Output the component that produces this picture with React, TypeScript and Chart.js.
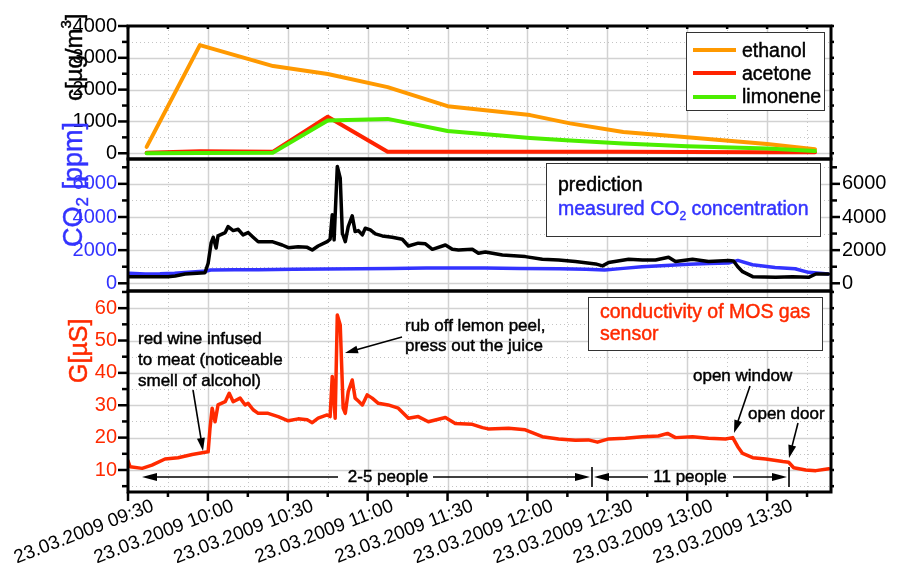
import React, { useEffect, useRef } from 'react';
import { Chart, registerables } from 'chart.js';

Chart.register(...registerables);

const FONT = '"Liberation Sans", Arial, Helvetica, sans-serif';

// x values are minutes after 23.03.2009 09:30
const X_MAX = 264;
const timeTicks = [0, 30, 60, 90, 120, 150, 180, 210, 240];
const timeLabels = [
  '23.03.2009 09:30', '23.03.2009 10:00', '23.03.2009 10:30', '23.03.2009 11:00',
  '23.03.2009 11:30', '23.03.2009 12:00', '23.03.2009 12:30', '23.03.2009 13:00',
  '23.03.2009 13:30',
];
const cTicks = [0, 1000, 2000, 3000, 4000];
const co2Ticks = [0, 2000, 4000, 6000];
const gTicks = [10, 20, 30, 40, 50, 60];

// top panel: c [µg/m³]
const gasTimes = [7, 27, 54.5, 75, 97.5, 120, 151, 166, 186, 210, 240, 258];
const ethanol = [200, 3400, 2740, 2490, 2080, 1480, 1200, 940, 670, 500, 290, 130];
const acetone = [20, 60, 50, 1150, 50, 50, 50, 50, 50, 40, 30, 30];
const limonene = [0, 10, 20, 1030, 1080, 700, 480, 400, 310, 220, 150, 70];

// middle panel: CO2 [ppm]
const co2Times = [
  0.5, 6.5, 12, 17.5, 24, 29.5, 31, 40, 49, 62,
  74, 87, 99, 112, 124, 134, 147, 162, 172, 179,
  186, 193, 202, 210.5, 218, 225.5, 229, 234.5, 243, 250.5,
  255.5, 263,
];
const co2Measured = [
  600, 560, 570, 600, 680, 740, 800, 810, 820, 840,
  860, 880, 900, 920, 930, 920, 900, 880, 850, 800,
  900, 1000, 1080, 1150, 1200, 1220, 1380, 1120, 950, 880,
  660, 560,
];
const predTimes = [
  0.5, 15, 17.7, 21.4, 28.9, 30.1, 31.2, 32, 33.1, 33.8,
  36.5, 37.6, 39.5, 41.4, 43.2, 45.1, 47, 48.9, 54.1, 57.9,
  60.2, 63.9, 67.3, 69.2, 71.4, 74.8, 75.9, 76.7, 77.4, 78.6,
  79.7, 80.5, 81.6, 82.7, 84.2, 85.3, 86.5, 88, 89.1, 91,
  92.9, 95.5, 99.2, 103, 105.3, 109, 111.7, 114.3, 119.2, 121.8,
  124.1, 129.3, 131.6, 134.2, 140.6, 149.2, 155.6, 161.7, 168, 175.6,
  178.2, 180.5, 188, 193.2, 198.1, 203, 205.6, 212, 218, 225.6,
  227.4, 229, 230.8, 234.6, 243.2, 249.6, 255.6, 258.3, 263,
];
const predValues = [
  400, 400, 440, 560, 640, 1210, 2420, 2780, 2130, 2860,
  3060, 3420, 3180, 3260, 2920, 3060, 2780, 2510, 2510, 2310,
  2150, 2210, 2170, 2010, 2250, 2510, 2660, 4130, 2620, 7050,
  6340, 3020, 2510, 3420, 4070, 3120, 3180, 2920, 3320, 3220,
  2980, 2860, 2780, 2660, 2250, 2420, 2380, 2050, 2310, 2050,
  2010, 2050, 1810, 1890, 1710, 1610, 1450, 1410, 1310, 1170,
  1050, 1250, 1450, 1410, 1410, 1570, 1310, 1450, 1310, 1370,
  1350, 1000, 700, 400, 360, 400, 360, 560, 560,
];

// bottom panel: G [µS]
const gTimes = [
  0, 0.8, 5.3, 9, 13.9, 18.8, 24.1, 28.9, 30.1, 30.8,
  31.6, 32.7, 33.8, 36.5, 38, 39.5, 42.1, 44, 45.1, 47,
  48.9, 52.6, 56.4, 60.2, 63.9, 67.3, 69.2, 71.4, 74.8, 75.9,
  76.7, 77.8, 78.6, 79.7, 80.8, 81.6, 82.7, 84.2, 85.3, 86.5,
  88, 89.8, 91.7, 94, 97.7, 101.5, 105.3, 109, 112.8, 119.2,
  122.9, 129.3, 133.1, 135.3, 142.9, 149.2, 155.6, 161.7, 168, 172.9,
  176.3, 180.5, 186.8, 193.2, 199.2, 202.6, 205.6, 212, 218, 224.4,
  227.1, 229, 230.8, 234.6, 239.5, 245.9, 248.1, 250, 254.5, 258.3,
  263.2,
];
const gValues = [
  12.8, 11.0, 10.5, 11.5, 13.4, 13.8, 14.8, 15.5, 15.6, 22.9,
  29.1, 24.9, 30.1, 31.1, 33.7, 31.1, 32.2, 30.1, 30.6, 28.6,
  27.5, 27.5, 26.5, 25.2, 25.8, 25.5, 24.6, 26.0, 27.0, 26.5,
  38.9, 26.0, 57.9, 54.8, 29.1, 27.5, 34.2, 37.8, 32.2, 31.3,
  30.1, 33.2, 32.2, 30.6, 30.1, 29.1, 26.0, 26.5, 24.9, 26.2,
  24.4, 24.1, 23.1, 22.7, 22.9, 22.4, 20.3, 19.6, 19.2, 19.3,
  18.6, 19.6, 19.8, 20.3, 20.5, 21.3, 20.0, 20.3, 19.8, 19.6,
  20.0, 17.2, 15.1, 13.8, 13.4, 12.6, 12.4, 10.7, 10.0, 9.8,
  10.4,
];

const C_ETH = '#ff9900';
const C_ACE = '#ff2200';
const C_LIM = '#4cee00';
const C_BLUE = '#3333ff';
const C_RED = '#ff2a00';

const pts = (xs: number[], ys: number[]) => xs.map((x, i) => ({ x, y: ys[i] }));

const PANELS = [
  { id: 'yT', minor: 500, major: 1000 },
  { id: 'yM', minor: 1000, major: 2000 },
  { id: 'yB', minor: 5, major: 10 },
];

function seg(ctx: any, x1: number, y1: number, x2: number, y2: number) {
  ctx.beginPath();
  ctx.moveTo(x1, y1);
  ctx.lineTo(x2, y2);
  ctx.stroke();
}

function arrow(ctx: any, x1: number, y1: number, x2: number, y2: number, head = 13, half = 4) {
  const dx = x2 - x1, dy = y2 - y1;
  const len = Math.hypot(dx, dy);
  const ux = dx / len, uy = dy / len;
  const bx = x2 - ux * head, by = y2 - uy * head;
  ctx.lineWidth = 1.6;
  seg(ctx, x1, y1, bx + ux * 2, by + uy * 2);
  ctx.beginPath();
  ctx.moveTo(x2, y2);
  ctx.lineTo(bx - uy * half, by + ux * half);
  ctx.lineTo(bx + uy * half, by - ux * half);
  ctx.closePath();
  ctx.fill();
}

// text with a faint outline so it reads as heavy as the original
function rich(ctx: any, x: number, y: number, parts: any[]) {
  let cx = x;
  for (const p of parts) {
    ctx.font = `${p.size}px ${FONT}`;
    ctx.fillStyle = p.color;
    ctx.strokeStyle = p.color;
    ctx.lineWidth = 0.45;
    ctx.fillText(p.t, cx, y + (p.dy || 0));
    ctx.strokeText(p.t, cx, y + (p.dy || 0));
    cx += ctx.measureText(p.t).width;
  }
}

function rotatedRich(ctx: any, x: number, y: number, parts: any[]) {
  ctx.save();
  ctx.translate(x, y);
  ctx.rotate(-Math.PI / 2);
  ctx.textAlign = 'left';
  ctx.textBaseline = 'alphabetic';
  rich(ctx, 0, 0, parts);
  ctx.restore();
}

const gridPlugin = {
  id: 'panelGrid',
  beforeDatasetsDraw(chart: any) {
    const { ctx, chartArea: ca, scales } = chart;
    const xs = scales.x;
    ctx.save();
    for (let t = 15; t < xs.max; t += 15) {
      const major = t % 30 === 0;
      const px = Math.round(xs.getPixelForValue(t)) + 0.5;
      ctx.lineWidth = major ? 1.5 : 1;
      ctx.strokeStyle = major ? '#d2d2d2' : '#c4c4c4';
      ctx.setLineDash(major ? [] : [1, 3]);
      seg(ctx, px, ca.top, px, ca.bottom);
    }
    for (const p of PANELS) {
      const s = scales[p.id];
      for (let v = Math.ceil(s.min / p.minor) * p.minor; v < s.max; v += p.minor) {
        const py = Math.round(s.getPixelForValue(v)) + 0.5;
        if (py < s.top + 2 || py > s.bottom - 2) continue;
        const major = v % p.major === 0;
        ctx.lineWidth = major ? 1.5 : 1;
        ctx.strokeStyle = major ? '#d2d2d2' : '#c4c4c4';
        ctx.setLineDash(major ? [] : [1, 3]);
        seg(ctx, ca.left, py, ca.right, py);
      }
    }
    ctx.restore();
  },
  afterDatasetsDraw(chart: any) {
    const { ctx, chartArea: ca, scales } = chart;
    ctx.save();
    ctx.strokeStyle = '#000';
    ctx.setLineDash([]);
    ctx.lineWidth = 2.5;
    for (const p of PANELS) {
      const s = scales[p.id];
      for (let v = Math.ceil(s.min / p.minor) * p.minor; v <= s.max; v += p.minor) {
        const py = s.getPixelForValue(v);
        if (py < s.top - 0.5 || py > s.bottom + 0.5) continue;
        const major = v % p.major === 0;
        seg(ctx, ca.left, py, ca.left - (major ? 10 : 6), py);
        const rl = p.id === 'yM' ? (major ? 9 : 6) : 3;
        seg(ctx, ca.right, py, ca.right + rl, py);
      }
    }
    const xs = scales.x;
    for (let t = 0; t <= xs.max; t += 15) {
      const px = xs.getPixelForValue(t);
      const major = t % 30 === 0;
      seg(ctx, px, ca.bottom, px, ca.bottom + (major ? 9 : 5));
      seg(ctx, px, ca.top, px, ca.top + 3);
    }
    ctx.lineWidth = 3;
    for (const p of PANELS) {
      const s = scales[p.id];
      ctx.strokeRect(ca.left, s.top, ca.right - ca.left, s.bottom - s.top);
    }
    ctx.restore();
  },
  afterDraw(chart: any) {
    const { ctx } = chart;
    ctx.save();
    ctx.setLineDash([]);
    ctx.textBaseline = 'alphabetic';
    ctx.textAlign = 'left';

    // axis titles
    rotatedRich(ctx, 82, 101, [
      { t: 'c[µg/m', size: 24, color: '#000' },
      { t: '3', size: 15, dy: -11, color: '#000' },
      { t: ']', size: 24, color: '#000' },
    ]);
    rotatedRich(ctx, 82, 247, [
      { t: 'CO', size: 27, color: C_BLUE },
      { t: '2', size: 17, dy: 6, color: C_BLUE },
      { t: ' [ppm]', size: 27, color: C_BLUE },
    ]);
    rotatedRich(ctx, 87, 383, [{ t: 'G[µS]', size: 25, color: C_RED }]);

    // legend boxes
    ctx.lineWidth = 1;
    ctx.strokeStyle = '#333';
    ctx.fillStyle = '#fff';
    ctx.fillRect(686, 32, 138, 78);
    ctx.strokeRect(686.5, 32.5, 138, 78);
    const legendRows = [
      { t: 'ethanol', c: C_ETH, y: 50, by: 57 },
      { t: 'acetone', c: C_ACE, y: 73, by: 80 },
      { t: 'limonene', c: C_LIM, y: 97, by: 103 },
    ];
    for (const r of legendRows) {
      ctx.strokeStyle = r.c;
      ctx.lineWidth = 4;
      seg(ctx, 693, r.y, 736, r.y);
      rich(ctx, 742, r.by, [{ t: r.t, size: 19.5, color: '#000' }]);
    }

    ctx.lineWidth = 1;
    ctx.strokeStyle = '#333';
    ctx.fillStyle = '#fff';
    ctx.fillRect(546, 163, 274, 73);
    ctx.strokeRect(546.5, 163.5, 274, 73);
    rich(ctx, 558, 191, [{ t: 'prediction', size: 19.5, color: '#000' }]);
    rich(ctx, 558, 215, [
      { t: 'measured CO', size: 19.5, color: C_BLUE },
      { t: '2', size: 12, dy: 5, color: C_BLUE },
      { t: ' concentration', size: 19.5, color: C_BLUE },
    ]);

    ctx.lineWidth = 1;
    ctx.strokeStyle = '#333';
    ctx.fillStyle = '#fff';
    ctx.fillRect(588, 297, 234, 53);
    ctx.strokeRect(588.5, 297.5, 234, 53);
    rich(ctx, 600, 318, [{ t: 'conductivity of MOS gas', size: 19.5, color: C_RED }]);
    rich(ctx, 600, 340, [{ t: 'sensor', size: 19.5, color: C_RED }]);

    // annotations
    const A = 17;
    rich(ctx, 138, 344, [{ t: 'red wine infused', size: A, color: '#000' }]);
    rich(ctx, 138, 365, [{ t: 'to meat (noticeable', size: A, color: '#000' }]);
    rich(ctx, 138, 386, [{ t: 'smell of alcohol)', size: A, color: '#000' }]);
    rich(ctx, 405, 331, [{ t: 'rub off lemon peel,', size: A, color: '#000' }]);
    rich(ctx, 405, 351, [{ t: 'press out the juice', size: A, color: '#000' }]);
    rich(ctx, 693, 381, [{ t: 'open window', size: A, color: '#000' }]);
    rich(ctx, 748, 419, [{ t: 'open door', size: A, color: '#000' }]);

    ctx.strokeStyle = '#000';
    ctx.fillStyle = '#000';
    arrow(ctx, 193, 390, 203, 451);
    arrow(ctx, 402, 337, 345, 353);
    arrow(ctx, 750, 386, 734, 433);
    arrow(ctx, 798, 423, 789, 458);

    // people ranges
    ctx.textAlign = 'center';
    rich(ctx, 388, 482, [{ t: '2-5 people', size: A, color: '#000' }]);
    rich(ctx, 690, 482, [{ t: '11 people', size: A, color: '#000' }]);
    ctx.textAlign = 'left';
    ctx.strokeStyle = '#000';
    ctx.fillStyle = '#000';
    arrow(ctx, 338, 477, 142, 477, 15, 4);
    arrow(ctx, 433, 477, 590, 477, 15, 4);
    arrow(ctx, 648, 477, 594, 477, 15, 4);
    arrow(ctx, 733, 477, 787, 477, 15, 4);
    ctx.lineWidth = 1.6;
    seg(ctx, 592, 467, 592, 487);
    seg(ctx, 789, 467, 789, 487);
    ctx.restore();
  },
};

const fitLeft = (s: any) => {
  s.width = 128;
  s.paddingTop = 0; s.paddingBottom = 0; s.paddingLeft = 0; s.paddingRight = 0;
};
const fitRight = (s: any) => {
  s.width = 92;
  s.paddingTop = 0; s.paddingBottom = 0; s.paddingLeft = 0; s.paddingRight = 0;
};

const tickFont = { family: FONT, size: 20 };

function yAxis(position: string, weight: number, stackWeight: number, min: number, max: number, tickValues: number[], color: string, show: boolean) {
  return {
    type: 'linear',
    position,
    stack: position === 'left' ? 'L' : 'R',
    weight,
    stackWeight,
    min,
    max,
    grid: { display: false, drawTicks: false },
    border: { display: false },
    afterBuildTicks: (s: any) => {
      s.ticks = tickValues.map((v) => ({ value: v }));
    },
    ticks: {
      display: show,
      autoSkip: false,
      padding: 11,
      color,
      font: tickFont,
      callback: (v: any) => String(v),
    },
    afterFit: position === 'left' ? fitLeft : fitRight,
  };
}

export default function App() {
  const ref = useRef<HTMLCanvasElement>(null);
  useEffect(() => {
    document.body.style.margin = '0';
    const chart = new Chart(ref.current as HTMLCanvasElement, {
      type: 'line',
      data: {
        datasets: [
          { label: 'limonene', data: pts(gasTimes, limonene), yAxisID: 'yT', borderColor: C_LIM, borderWidth: 4, order: 0 },
          { label: 'acetone', data: pts(gasTimes, acetone), yAxisID: 'yT', borderColor: C_ACE, borderWidth: 4, order: 1 },
          { label: 'ethanol', data: pts(gasTimes, ethanol), yAxisID: 'yT', borderColor: C_ETH, borderWidth: 4, order: 2 },
          { label: 'prediction', data: pts(predTimes, predValues), yAxisID: 'rM', borderColor: '#000', borderWidth: 3.5, order: 3 },
          { label: 'measured CO2 concentration', data: pts(co2Times, co2Measured), yAxisID: 'yM', borderColor: C_BLUE, borderWidth: 3.5, order: 4 },
          { label: 'conductivity of MOS gas sensor', data: pts(gTimes, gValues), yAxisID: 'yB', borderColor: C_RED, borderWidth: 3.5, order: 5 },
        ],
      },
      options: {
        responsive: false,
        animation: false,
        events: [],
        layout: { padding: { top: 26, left: 0, right: 0, bottom: 0 } },
        plugins: { legend: { display: false }, tooltip: { enabled: false } },
        elements: {
          point: { radius: 0 },
          line: { tension: 0, borderJoinStyle: 'round', borderCapStyle: 'round', fill: false },
        },
        scales: {
          x: {
            type: 'linear',
            position: 'bottom',
            min: 0,
            max: X_MAX,
            grid: { display: false, drawTicks: false },
            border: { display: false },
            afterBuildTicks: (s: any) => {
              s.ticks = timeTicks.map((v) => ({ value: v }));
            },
            ticks: {
              autoSkip: false,
              minRotation: 21,
              maxRotation: 21,
              labelOffset: 25,
              padding: 3,
              color: '#000',
              font: { family: FONT, size: 19 },
              callback: (v: any) => timeLabels[timeTicks.indexOf(Number(v))] ?? '',
            },
            afterFit: (s: any) => {
              s.height = 71;
              s.paddingLeft = 0; s.paddingRight = 0;
            },
          },
          yT: yAxis('left', 3, 133, -180, 4000, cTicks, '#000', true),
          yM: yAxis('left', 2, 132, -465, 7500, co2Ticks, C_BLUE, true),
          yB: yAxis('left', 1, 201, 3.2, 65.3, gTicks, C_RED, true),
          rT: yAxis('right', 1, 133, -180, 4000, cTicks, '#000', false),
          rM: yAxis('right', 2, 132, -465, 7500, co2Ticks, '#000', true),
          rB: yAxis('right', 3, 201, 3.2, 65.3, gTicks, '#000', false),
        } as any,
      },
      plugins: [gridPlugin],
    } as any);
    return () => chart.destroy();
  }, []);
  return <canvas ref={ref} width={923} height={563} style={{ display: 'block' }} />;
}
